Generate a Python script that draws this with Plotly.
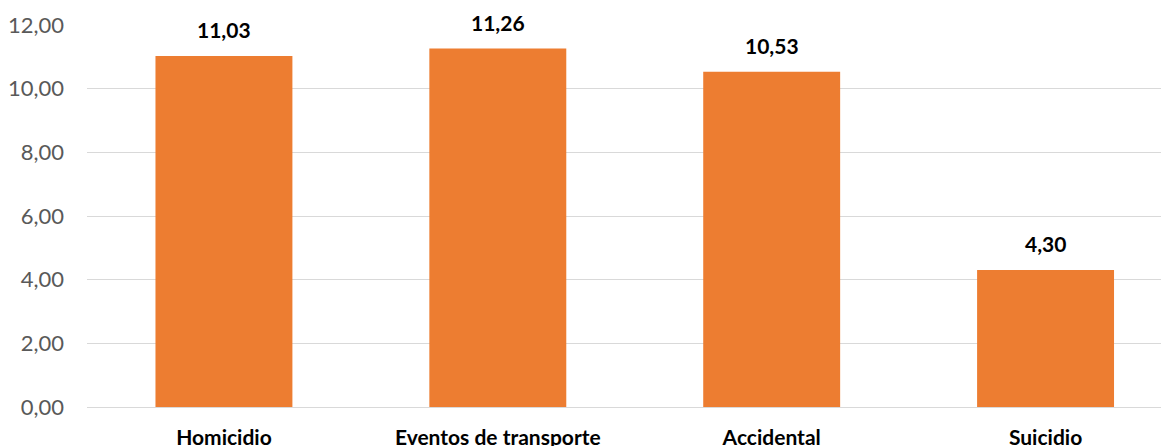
import plotly.graph_objects as go

categories = ["Homicidio", "Eventos de transporte", "Accidental", "Suicidio"]
values = [11.03, 11.26, 10.53, 4.30]
y_ticks = [0, 2, 4, 6, 8, 10, 12]

W, H = 1169, 446
FONT = "Lato"

fig = go.Figure()
fig.add_trace(go.Bar(
    x=list(range(len(categories))),
    y=values,
    width=0.5,
    marker=dict(color="#ED7D31", line=dict(width=0)),
    hoverinfo="skip",
))

for i, v in enumerate(values):
    fig.add_annotation(
        x=i, y=v, xref="x", yref="y",
        text=f"{v:.2f}".replace(".", ","),
        showarrow=False, yanchor="bottom", yshift=12,
        font=dict(family=FONT, size=21, color="#000000", weight="bold"),
    )

# page body has an 8px default margin; compensate
left = 78.5
top = 17
bottom = 47
px_per_cat = 274.0
plot_w = W - left
x_max = -0.5 + plot_w / px_per_cat

fig.update_layout(
    width=W, height=H,
    margin=dict(l=left, r=0, t=top, b=bottom, pad=0, autoexpand=False),
    paper_bgcolor="white", plot_bgcolor="white",
    separators=",.",
    showlegend=False,
    bargap=0.5,
    xaxis=dict(
        range=[-0.5, x_max],
        automargin=False,
        tickmode="array",
        tickvals=list(range(len(categories))),
        ticktext=categories,
        tickfont=dict(family=FONT, size=21, color="#000000", weight="bold"),
        showgrid=False, zeroline=False,
        showline=False,
        ticks="", ticklabelstandoff=16,
    ),
    yaxis=dict(
        range=[0, 12],
        automargin=False,
        tickmode="array",
        tickvals=y_ticks,
        tickformat=".2f",
        tickfont=dict(family=FONT, size=22, color="#595959"),
        showgrid=True, gridcolor="#D9D9D9", gridwidth=1.3,
        zeroline=True, zerolinecolor="#D9D9D9", zerolinewidth=1.3,
        showline=False, ticks="", ticklabelstandoff=22,
    ),
)

fig.write_html("out.html")
